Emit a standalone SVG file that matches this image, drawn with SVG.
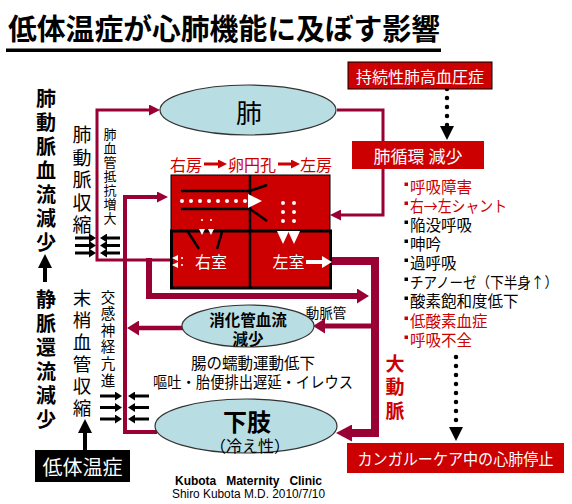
<svg xmlns="http://www.w3.org/2000/svg" width="572" height="504" viewBox="0 0 572 504">
<style>
text{font-family:"Noto Sans CJK JP","Liberation Sans",sans-serif;}
.lat{font-family:"Liberation Sans",Arial,sans-serif;}
.c{text-anchor:middle;dominant-baseline:central;}
.l{dominant-baseline:central;}
.vt{writing-mode:vertical-rl;text-orientation:upright;}
.w{fill:#ffffff;}
.r{fill:#cc0000;}
.k{fill:#000000;}
.b{font-weight:bold;}
.mar{fill:none;stroke:#990033;stroke-linejoin:miter;}
.ell{fill:#b8dde2;stroke:#333333;stroke-width:1.2;}
.redbox{fill:#cc0000;}
.karr{stroke:#000;stroke-width:3;fill:none;}
.dots{stroke-dasharray:0 9;stroke-linecap:round;fill:none;}
</style>
<defs>
<marker id="aS" markerUnits="userSpaceOnUse" markerWidth="11" markerHeight="11" refX="0" refY="5.5" orient="auto"><path d="M0,0 L11,5.5 L0,11 z" fill="#990033"/></marker>
<marker id="aM" markerUnits="userSpaceOnUse" markerWidth="13" markerHeight="15" refX="0" refY="7.5" orient="auto"><path d="M0,0 L12,7.5 L0,15 z" fill="#990033"/></marker>
<marker id="aL" markerUnits="userSpaceOnUse" markerWidth="17" markerHeight="17" refX="0" refY="8.5" orient="auto"><path d="M0,0 L16,8.5 L0,17 z" fill="#990033"/></marker>
<marker id="aK" markerUnits="userSpaceOnUse" markerWidth="8" markerHeight="9" refX="0" refY="4.5" orient="auto"><path d="M0,0 L7,4.5 L0,9 z" fill="#000"/></marker>
<marker id="aD" markerUnits="userSpaceOnUse" markerWidth="14" markerHeight="14" refX="0" refY="7" orient="auto"><path d="M0,0 L14,7 L0,14 z" fill="#000"/></marker>
<marker id="aW" markerUnits="userSpaceOnUse" markerWidth="11" markerHeight="12" refX="0" refY="6" orient="auto"><path d="M0,0 L10,6 L0,12 z" fill="#fff"/></marker>
<marker id="aR" markerUnits="userSpaceOnUse" markerWidth="9" markerHeight="9" refX="0" refY="4.5" orient="auto"><path d="M0,0 L9,4.5 L0,9 z" fill="#cc0000"/></marker>
</defs>
<rect width="572" height="504" fill="#fff"/>

<g id="title">
<text x="8" y="40" font-size="29" class="b" textLength="432" lengthAdjust="spacingAndGlyphs">低体温症が心肺機能に及ぼす影響</text>
<rect x="6" y="48.5" width="435" height="3.5" fill="#000"/>
</g>

<g id="connectors">
<path class="mar" stroke-width="3" d="M170,260 H97 V110 H149" marker-end="url(#aS)"/>
<path class="mar" stroke-width="6" d="M149,258 V296 H357" marker-end="url(#aM)"/>
<path class="mar" stroke-width="3" d="M337,110 H383 V215 H341" marker-end="url(#aS)"/>
<path class="mar" stroke-width="4" d="M157,432 H125 V197 H157" marker-end="url(#aS)"/>
<path class="mar" stroke-width="4.5" d="M183,328 H139" marker-end="url(#aM)"/>
<path class="mar" stroke-width="8" d="M331,261 H375 V433 H352" marker-end="url(#aL)"/>
<path class="mar" stroke-width="5" d="M375,326 H325" marker-end="url(#aM)"/>
<path class="karr" d="M75,238 H89" marker-end="url(#aK)"/>
<path class="karr" d="M75,245.5 H89" marker-end="url(#aK)"/>
<path class="karr" d="M75,253 H89" marker-end="url(#aK)"/>
<path class="karr" d="M120,238 H107" marker-end="url(#aK)"/>
<path class="karr" d="M120,245.5 H107" marker-end="url(#aK)"/>
<path class="karr" d="M120,253 H107" marker-end="url(#aK)"/>
<path class="karr" d="M100,396 H115" marker-end="url(#aK)"/>
<path class="karr" d="M100,407.5 H115" marker-end="url(#aK)"/>
<path class="karr" d="M100,419 H115" marker-end="url(#aK)"/>
<path class="karr" d="M149,396 H135" marker-end="url(#aK)"/>
<path class="karr" d="M149,407.5 H135" marker-end="url(#aK)"/>
<path class="karr" d="M149,419 H135" marker-end="url(#aK)"/>
<path stroke="#000" stroke-width="4" d="M45,282 V268" marker-end="url(#aD)"/>
<path stroke="#000" stroke-width="4" d="M85,450 V433" marker-end="url(#aD)"/>
<path class="dots" stroke="#000" stroke-width="4.5" d="M447,89 V126" marker-end="url(#aD)"/>
<path class="dots" stroke="#000" stroke-width="4.5" d="M456,357 V427" marker-end="url(#aD)"/>
</g>

<g id="lung">
<ellipse class="ell" cx="248" cy="110" rx="88" ry="25"/>
<text class="c" x="249" y="111" font-size="26">肺</text>
</g>

<g id="ph">
<rect x="348" y="62" width="144" height="27" class="redbox" stroke="#000" stroke-width="1"/>
<text class="c w" x="420" y="75.5" font-size="16">持続性肺高血圧症</text>
</g>

<g id="pulm-circ">
<rect x="352" y="141" width="132" height="28" class="redbox"/>
<text class="c w" x="418" y="155" font-size="17">肺循環 減少</text>
</g>

<g id="shunt-label">
<text class="l r" x="170" y="163.5" font-size="16">右房</text>
<path stroke="#cc0000" stroke-width="3" d="M204,164 H218" marker-end="url(#aR)"/>
<text class="l r" x="228" y="163.5" font-size="16">卵円孔</text>
<path stroke="#cc0000" stroke-width="3" d="M278,164 H291" marker-end="url(#aR)"/>
<text class="l r" x="300" y="163.5" font-size="16">左房</text>
</g>

<g id="heart">
<rect x="171" y="175" width="159" height="56" fill="#cc0000" stroke="#000" stroke-width="1"/>
<rect x="171.5" y="231" width="159" height="57" fill="#cc0000" stroke="#000" stroke-width="3"/>
<line x1="250" y1="175" x2="250" y2="288" stroke="#000" stroke-width="2.5"/>
<path d="M181,191 H250 L267,185 M181,209 H250 L267,221" stroke="#000" stroke-width="2.5" fill="none"/>
<path d="M188,232 L199,249 M222,232 L217,249" stroke="#000" stroke-width="2.5" fill="none"/>
<path class="dots" stroke="#fff" stroke-width="4" d="M182,201 H246"/>
<polygon points="248,194 262,201 248,208" fill="#fff"/>
<path class="dots" stroke="#fff" stroke-width="4" stroke-dasharray="0 9.5" d="M283,203 V223"/>
<path class="dots" stroke="#fff" stroke-width="4" stroke-dasharray="0 9.5" d="M294,203 V223"/>
<polygon points="277,231 289,231 283,244" fill="#fff"/>
<polygon points="288,231 300,231 294,244" fill="#fff"/>
<path class="dots" stroke="#fff" stroke-width="2.2" stroke-dasharray="0 4" d="M202,220 V228 M211,220 V228"/>
<polygon points="199,229 205,229 202,235" fill="#fff"/>
<polygon points="208,229 214,229 211,235" fill="#fff"/>
<path class="dots" stroke="#fff" stroke-width="2.2" stroke-dasharray="0 4" d="M182,258 H191 M182,265 H191"/>
<polygon points="172,258 178,255 178,261" fill="#fff"/>
<polygon points="172,265 178,262 178,268" fill="#fff"/>
<text class="c w" x="211" y="261" font-size="16">右室</text>
<text class="c w" x="288.5" y="261" font-size="16">左室</text>
<path stroke="#fff" stroke-width="4" d="M306,262 H322" marker-end="url(#aW)"/>
</g>

<g id="ductus-label">
<text class="c k" x="326" y="312" font-size="13.5">動脈管</text>
</g>

<g id="aorta-label">
<text class="vt r b" x="395" y="354" font-size="19" letter-spacing="4.75">大動脈</text>
</g>

<g id="gi">
<ellipse class="ell" cx="248" cy="326" rx="66" ry="21"/>
<text class="c b" x="248" y="319" font-size="15.5">消化管血流</text>
<text class="c b" x="248" y="337.5" font-size="15.5">減少</text>
<text class="c" x="253" y="362" font-size="15.5">腸の蠕動運動低下</text>
<text class="c" x="253" y="381" font-size="15.5" textLength="200" lengthAdjust="spacingAndGlyphs">嘔吐・胎便排出遅延・イレウス</text>
</g>

<g id="limb">
<ellipse class="ell" cx="246" cy="426" rx="91" ry="27"/>
<text class="c b" x="247" y="420" font-size="24">下肢</text>
<text class="c" x="250" y="445" font-size="16">（冷え性）</text>
</g>

<g id="symptoms">
<rect x="404.5" y="182.5" width="3.5" height="3.5" fill="#cc0000"/>
<text class="l r" x="410" y="186" font-size="15.5">呼吸障害</text>
<rect x="404.5" y="201.5" width="3.5" height="3.5" fill="#cc0000"/>
<text class="l r" x="410" y="205" font-size="15.5" textLength="97" lengthAdjust="spacingAndGlyphs">右→左シャント</text>
<rect x="404.5" y="220.5" width="3.5" height="3.5" fill="#000"/>
<text class="l k" x="410" y="224" font-size="15.5">陥没呼吸</text>
<rect x="404.5" y="239.5" width="3.5" height="3.5" fill="#000"/>
<text class="l k" x="410" y="243" font-size="15.5">呻吟</text>
<rect x="404.5" y="258.5" width="3.5" height="3.5" fill="#000"/>
<text class="l k" x="410" y="262" font-size="15.5">過呼吸</text>
<rect x="404.5" y="277.5" width="3.5" height="3.5" fill="#000"/>
<text class="l k" x="410" y="281" font-size="14.8" textLength="148" lengthAdjust="spacingAndGlyphs">チアノーゼ（下半身↑）</text>
<rect x="404.5" y="296.5" width="3.5" height="3.5" fill="#000"/>
<text class="l k" x="410" y="300" font-size="15.5">酸素飽和度低下</text>
<rect x="404.5" y="316.5" width="3.5" height="3.5" fill="#cc0000"/>
<text class="l r" x="410" y="320" font-size="15.5">低酸素血症</text>
<rect x="404.5" y="335.5" width="3.5" height="3.5" fill="#cc0000"/>
<text class="l r" x="410" y="339" font-size="15.5">呼吸不全</text>
</g>

<g id="arrest">
<rect x="347" y="443" width="217" height="30" class="redbox"/>
<text class="c w" x="455.5" y="458" font-size="16" textLength="196" lengthAdjust="spacingAndGlyphs">カンガルーケア中の心肺停止</text>
</g>

<g id="pa-flow-label">
<text class="vt k b" x="46" y="88" font-size="20" letter-spacing="4">肺動脈血流減少</text>
</g>

<g id="venous-label">
<text class="vt k b" x="46" y="289" font-size="20" letter-spacing="4">静脈還流減少</text>
</g>

<g id="pa-constrict">
<text class="vt k" x="82" y="125.5" font-size="19" letter-spacing="3.5">肺動脈収縮</text>
</g>

<g id="pvr">
<text class="vt k" x="110" y="127.5" font-size="13" letter-spacing="1">肺血管抵抗増大</text>
</g>

<g id="periph">
<text class="vt k" x="82" y="288.3" font-size="18.5" letter-spacing="3.5">末梢血管収縮</text>
</g>

<g id="sympathetic">
<text class="vt k" x="108" y="289.8" font-size="14.5" letter-spacing="2.1">交感神経亢進</text>
</g>

<g id="hypothermia">
<rect x="35" y="450" width="95" height="32" fill="#000"/>
<text class="c w" x="82.5" y="466" font-size="20">低体温症</text>
</g>

<g id="credit">
<text x="175" y="485" font-size="12" class="b lat" textLength="147" lengthAdjust="spacing" xml:space="preserve">Kubota   Maternity   Clinic</text>
<text x="172" y="498" font-size="12" class="lat" textLength="153" lengthAdjust="spacingAndGlyphs">Shiro Kubota M.D. 2010/7/10</text>
</g>
</svg>
